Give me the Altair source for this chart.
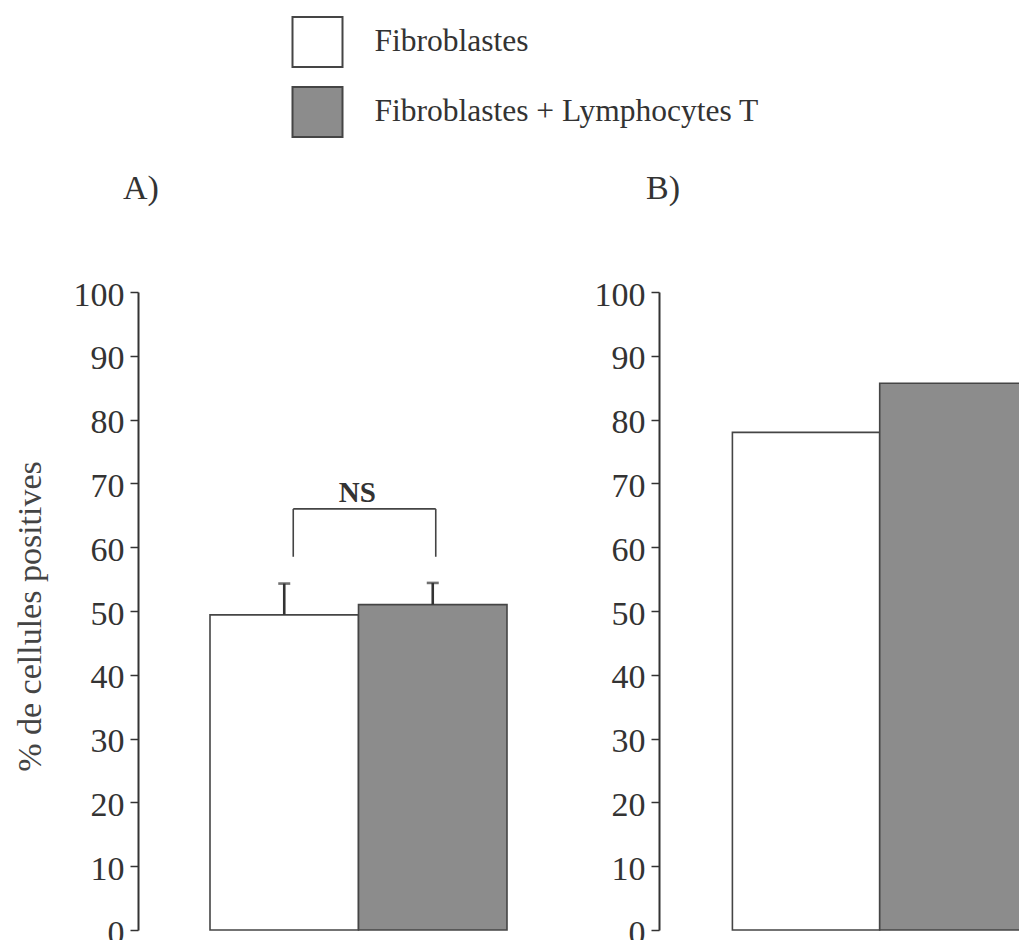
import altair as alt
import pandas as pd

# ---- data ----
groups = ["Fibroblastes", "Fibroblastes + Lymphocytes T"]
values_a = [49.4, 51.0]          # panel A bar heights (%)
upper_a = [54.3, 54.4]           # panel A error bar tops (%)
values_b = [78.0, 85.7]          # panel B bar heights (%)
tick_values = [0, 10, 20, 30, 40, 50, 60, 70, 80, 90, 100]
bracket_low = [58.5, 58.5]
bracket_high = [66.0]
ns_label = ["NS"]
panel_titles = ["A)", "B)"]
y_title = "% de cellules positives"

FONT = "Liberation Serif"
FILLS = ["#ffffff", "#8c8c8c"]
STROKE = "#454545"
TXT = "#333333"

df_a = pd.DataFrame({"group": groups, "value": values_a, "upper": upper_a})
df_b = pd.DataFrame({"group": groups, "value": values_b})
df_br_v = pd.DataFrame({"group": groups, "lo": bracket_low, "hi": bracket_high * 2})
df_br_h = pd.DataFrame({"group": [groups[0]], "group2": [groups[1]], "hi": bracket_high})
df_ns = pd.DataFrame({"group": [groups[0]], "hi": bracket_high, "label": ns_label})

STEP_A, PADL_A = 148.5, 72.0
STEP_B, PADL_B = 147.5, 73.5
H = 638


def xscale(step, padl):
    return alt.Scale(domain=groups, paddingInner=0, paddingOuter=padl / (2 * step), align=1)


def yaxis(title):
    kw = dict(values=tick_values, grid=False, domainColor="#333333", domainWidth=2,
              tickColor="#333333", tickWidth=1.5, tickSize=8, labelFont=FONT,
              labelFontSize=34, labelColor=TXT, labelPadding=6, labelOffset=3)
    if title:
        kw.update(titleFont=FONT, titleFontSize=34, titleFontWeight="normal",
                  titleColor="#444444", titlePadding=26, titleY=H / 2 + 5)
    return alt.Axis(**kw)


legend = alt.Legend(orient="none", legendX=153.5, legendY=-276, title=None,
                    symbolType="square", symbolSize=2500, symbolStrokeColor=STROKE,
                    symbolStrokeWidth=2, symbolOpacity=1, labelFont=FONT,
                    labelFontSize=31.5, labelColor=TXT, labelOffset=31, rowPadding=12,
                    padding=0, labelLimit=600)

color = alt.Color("group:N", scale=alt.Scale(domain=groups, range=FILLS), legend=legend)


def panel_title(t, dx):
    return alt.Title(t, anchor="start", frame="group", dx=dx, offset=45, baseline="alphabetic",
                     font=FONT, fontSize=34, fontWeight="normal", color=TXT)


# ---- panel A ----
xa = alt.X("group:N", scale=xscale(STEP_A, PADL_A), axis=None)
ya_scale = alt.Scale(domain=[0, 100], nice=False, zero=True)

bars_a = alt.Chart(df_a).mark_bar(stroke=STROKE, strokeWidth=1.6, opacity=1).encode(
    x=xa,
    y=alt.Y("value:Q", scale=ya_scale, axis=yaxis(y_title), title=y_title),
    color=color,
)
err_a = alt.Chart(df_a).mark_rule(color="#333333", strokeWidth=2.6).encode(
    x=xa, y=alt.Y("value:Q", scale=ya_scale), y2="upper:Q")
cap_a = alt.Chart(df_a).mark_tick(color="#333333", thickness=2.6, size=12, orient="horizontal").encode(
    x=xa, y=alt.Y("upper:Q", scale=ya_scale))
br_h = alt.Chart(df_br_h).mark_rule(color="#444444", strokeWidth=1.6, xOffset=9, x2Offset=3).encode(
    x=xa, x2="group2:N", y=alt.Y("hi:Q", scale=ya_scale))
br_v1 = alt.Chart(df_br_v.iloc[[0]]).mark_rule(color="#444444", strokeWidth=1.6, xOffset=9).encode(
    x=xa, y=alt.Y("lo:Q", scale=ya_scale), y2="hi:Q")
br_v2 = alt.Chart(df_br_v.iloc[[1]]).mark_rule(color="#444444", strokeWidth=1.6, xOffset=3).encode(
    x=xa, y=alt.Y("lo:Q", scale=ya_scale), y2="hi:Q")
ns = alt.Chart(df_ns).mark_text(font=FONT, fontSize=29, fontWeight="bold", color="#333333",
                                baseline="alphabetic", dy=-7, xOffset=73).encode(
    x=xa, y=alt.Y("hi:Q", scale=ya_scale), text="label:N")

panel_a = alt.layer(bars_a, err_a, cap_a, br_h, br_v1, br_v2, ns).properties(
    width=int(round(2 * STEP_A + PADL_A)), height=H, title=panel_title(panel_titles[0], -15))

# ---- panel B ----
xb = alt.X("group:N", scale=xscale(STEP_B, PADL_B), axis=None)
bars_b = alt.Chart(df_b).mark_bar(stroke=STROKE, strokeWidth=1.6, opacity=1).encode(
    x=xb,
    y=alt.Y("value:Q", scale=alt.Scale(domain=[0, 100], nice=False, zero=True), axis=yaxis(None), title=None),
    color=color,
)
panel_b = bars_b.properties(width=int(round(2 * STEP_B + PADL_B)), height=H,
                            title=panel_title(panel_titles[1], -13))

chart = alt.hconcat(panel_a, panel_b, spacing=152, bounds="flush").resolve_scale(
    x="independent", y="independent", color="shared"
).properties(
    padding={"left": 5, "top": 8, "right": -9, "bottom": -10}, background="#ffffff"
).configure_view(stroke=None)

chart.save("out.html", embed_options={"renderer": "svg", "actions": False})
